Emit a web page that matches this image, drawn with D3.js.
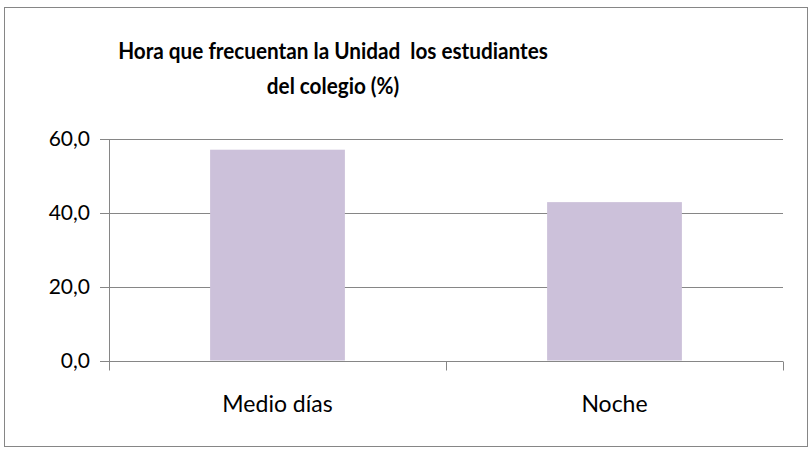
<!DOCTYPE html>
<html>
<head>
<meta charset="utf-8">
<script src="https://cdn.jsdelivr.net/npm/d3@7"></script>
<style>
  body { margin: 0; background: #fff; }
  svg text { font-family: Lato, "Open Sans", sans-serif; fill: #000; }
</style>
</head>
<body>
<svg></svg>
<script>
// -----------------------------
// DATA
// -----------------------------
let categories = ["Medio días", "Noche"];
let values = [57.1, 42.9];
let yTicks = [0, 20, 40, 60];
let titleLines = ["Hora que frecuentan la Unidad  los estudiantes", "del colegio (%)"];

// -----------------------------
// SETUP
// -----------------------------
let width = 812,
    height = 451;

let margin = { top: 139, bottom: 90.5, left: 109, right: 29 };

let svg = d3.select("svg")
            .attr("width", width)
            .attr("height", height);

// outer frame
svg.append("rect")
   .attr("x", 4.5)
   .attr("y", 7.5)
   .attr("width", 803)
   .attr("height", 439)
   .attr("fill", "#fff")
   .attr("stroke", "#868686")
   .attr("stroke-width", 1);

// -----------------------------
// SCALES
// -----------------------------
let xScale = d3.scaleBand()
               .domain(categories)
               .range([margin.left, width - margin.right])
               .paddingInner(0.6)
               .paddingOuter(0.3);

let xOuter = d3.scaleBand()
               .domain(categories)
               .range([margin.left, width - margin.right]);

let yScale = d3.scaleLinear()
               .domain([0, 60])
               .range([height - margin.bottom, margin.top]);

// -----------------------------
// GRID
// -----------------------------
svg.append("g")
   .selectAll("line")
   .data(yTicks)
   .enter()
   .append("line")
   .attr("x1", margin.left - 9)
   .attr("x2", width - margin.right)
   .attr("y1", d => Math.round(yScale(d)) + 0.5)
   .attr("y2", d => Math.round(yScale(d)) + 0.5)
   .attr("stroke", "#868686")
   .attr("stroke-width", 1);

// -----------------------------
// BARS
// -----------------------------
svg.append("g")
   .selectAll("rect")
   .data(values)
   .enter()
   .append("rect")
   .attr("x", (d, i) => xScale(categories[i]))
   .attr("width", xScale.bandwidth())
   .attr("y", d => yScale(d))
   .attr("height", d => yScale(0) - yScale(d))
   .attr("fill", "#ccc1da");

// -----------------------------
// AXES
// -----------------------------
let y0 = Math.round(yScale(0)) + 0.5;

// y axis line
svg.append("line")
   .attr("x1", margin.left + 0.5)
   .attr("x2", margin.left + 0.5)
   .attr("y1", margin.top)
   .attr("y2", y0 + 9)
   .attr("stroke", "#868686");

// x axis category ticks
svg.append("g")
   .selectAll("line")
   .data(categories.slice(1).concat(["end"]))
   .enter()
   .append("line")
   .attr("x1", (d, i) => Math.round(i < categories.length - 1 ? xOuter(d) : width - margin.right) + 0.5)
   .attr("x2", (d, i) => Math.round(i < categories.length - 1 ? xOuter(d) : width - margin.right) + 0.5)
   .attr("y1", y0)
   .attr("y2", y0 + 9)
   .attr("stroke", "#868686");

// y tick labels
svg.append("g")
   .selectAll("text")
   .data(yTicks)
   .enter()
   .append("text")
   .attr("x", margin.left - 19)
   .attr("y", d => yScale(d) + 7)
   .attr("text-anchor", "end")
   .style("font-size", "21px")
   .text(d => d3.format(".1f")(d).replace(".", ","));

// x labels
svg.append("g")
   .selectAll("text")
   .data(categories)
   .enter()
   .append("text")
   .attr("x", d => xOuter(d) + xOuter.bandwidth() / 2)
   .attr("y", y0 + 50)
   .attr("text-anchor", "middle")
   .style("font-size", "23px")
   .text(d => d);

// -----------------------------
// TITLE (squeezed a little to the title width of the original)
// -----------------------------
let titleX = 333,
    titleWidth = 430;

let title = svg.append("g")
   .selectAll("text")
   .data(titleLines)
   .enter()
   .append("text")
   .attr("y", (d, i) => 59 + i * 35)
   .attr("text-anchor", "middle")
   .style("font-size", "23px")
   .style("font-weight", "bold")
   .style("white-space", "pre")
   .text(d => d);

let k = titleWidth / title.nodes()[0].getComputedTextLength();
title.attr("transform", `translate(${titleX},0) scale(${k},1)`);
</script>
</body>
</html>
